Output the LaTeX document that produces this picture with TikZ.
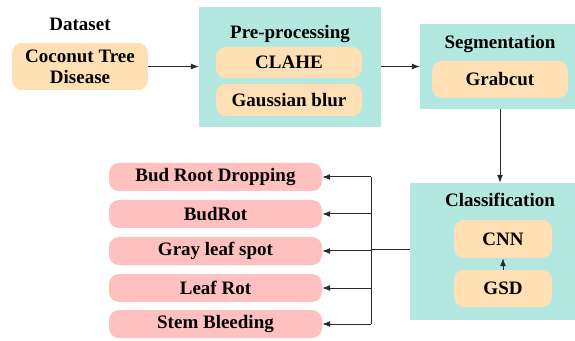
\documentclass[tikz,border=0pt]{standalone}
\usepackage{fontspec}
\setmainfont{Liberation Serif}
\usepackage{tikz}
\usetikzlibrary{positioning, arrows.meta}
\definecolor{peach}{HTML}{FFE0B5}
\definecolor{stagebg}{HTML}{B3E8E0}
\definecolor{pink}{HTML}{FFC0C0}
\definecolor{ln}{HTML}{2A2A2A}

\begin{document}
\begin{tikzpicture}[x=1pt, y=1pt,
    font=\fontsize{19}{21}\selectfont\bfseries,
    stage/.style={rectangle, fill=stagebg, inner sep=0pt},
    bx/.style={rectangle, rounded corners=10pt, fill=peach, inner sep=0pt, align=center},
    dis/.style={bx, fill=pink, minimum width=213pt, minimum height=28pt},
    ttl/.style={inner sep=0pt},
    ar/.style={->, >={Latex[length=8pt, width=6pt]}, draw=ln, line width=1pt},
    ln/.style={draw=ln, line width=1pt}]
\useasboundingbox (0,0) rectangle (575,340);
% stages
\node[stage, minimum width=182pt, minimum height=120pt] (pre) at (290,273) {};
\node[stage, minimum width=165pt, minimum height=85pt] (seg) at (502.5,273.5) {};
\node[stage, minimum width=175pt, minimum height=137pt] (cls) at (497.5,88.5) {};
% titles
\node[ttl] (tdata) at (80,316) {Dataset};
\node[ttl] (tpre) at (290,306) {Pre-processing};
\node[ttl] (tseg) at (500,296) {Segmentation};
\node[ttl] (tcls) at (500,140) {Classification};
% boxes
\node[bx, minimum width=136pt, minimum height=47pt] (data) at (80,273.5) {Coconut Tree\\Disease};
\node[bx, minimum width=146pt, minimum height=31pt] (clahe) at (289,277.5) {CLAHE};
\node[bx, minimum width=146pt, minimum height=32pt] (gauss) at (289,240) {Gaussian blur};
\node[bx, minimum width=136pt, minimum height=37pt] (grab) at (500,260.5) {Grabcut};
\node[bx, minimum width=98pt, minimum height=38pt] (cnn) at (503,101) {CNN};
\node[bx, minimum width=98pt, minimum height=37pt] (gsd) at (503,51.5) {GSD};
% diseases
\node[dis] (d1) at (215.5,163) {Bud Root Dropping};
\node[dis] (d2) at (215.5,126) {BudRot};
\node[dis] (d3) at (215.5,89) {Gray leaf spot};
\node[dis] (d4) at (215.5,52) {Leaf Rot};
\node[dis] (d5) at (215.5,16) {Stem Bleeding};
% connectors
\draw[ar] (data.east) -- (data.east -| pre.west);
\draw[ar] (pre.east |- seg) -- (seg.west);
\draw[ar] (grab |- seg.south) -- (grab |- cls.north);
\draw[ar] (gsd) -- (cnn);
\coordinate (br) at (371,90);
\draw[ln] (br -| cls.west) -- (br);
\draw[ln] (br |- d1.east) -- (br |- d5.east);
\foreach \d in {d1,d2,d3,d4,d5}
    \draw[ar] (br |- \d.east) -- (\d.east);
\end{tikzpicture}
\end{document}
